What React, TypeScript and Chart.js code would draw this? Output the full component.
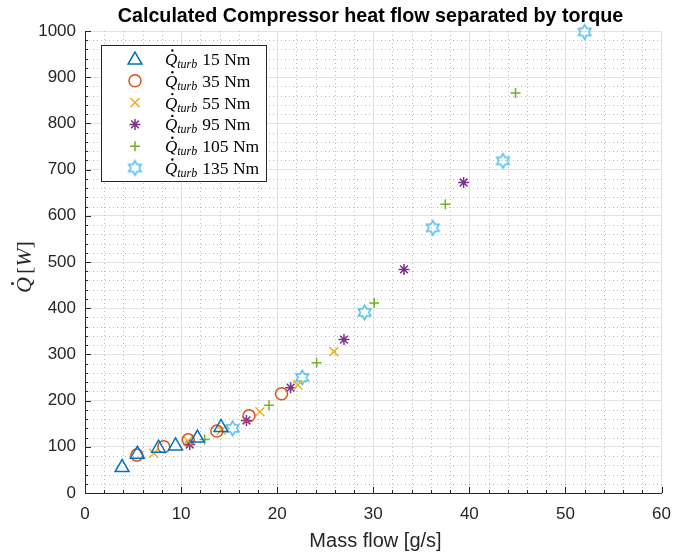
import React, { useEffect, useRef } from 'react';
import { Chart, registerables } from 'chart.js';
import { drawPoint } from 'chart.js/helpers';

Chart.register(...registerables);

const chartTitle = 'Calculated Compressor heat flow separated by torque';
const xTitle = 'Mass flow [g/s]';
const seriesLabels = ['15 Nm', '35 Nm', '55 Nm', '95 Nm', '105 Nm', '135 Nm'];
const seriesColors = ['#0072BD', '#D95319', '#EDB120', '#7E2F8E', '#77AC30', '#4DBEEE'];

const mass15 = [3.86, 5.45, 7.65, 9.42, 11.7, 14.15];
const heat15 = [55, 84, 97, 102, 119, 142];
const mass35 = [5.4, 8.2, 10.75, 13.72, 17.07, 20.45];
const heat35 = [82, 100, 115, 134, 167, 215];
const mass55 = [7.16, 10.7, 14.2, 18.2, 22.15, 25.9];
const heat55 = [86, 113, 136, 176, 234, 306];
const mass95 = [10.9, 16.8, 21.4, 26.95, 33.2, 39.4];
const heat95 = [105, 157, 228, 332, 484, 672];
const mass105 = [12.45, 19.15, 24.1, 30.1, 37.5, 44.8];
const heat105 = [116, 190, 282, 411, 625, 866];
const mass135 = [15.36, 22.6, 29.1, 36.2, 43.5, 52.0];
const heat135 = [140, 250, 391, 574, 719, 998];

const xTicksMajor = [0, 10, 20, 30, 40, 50, 60];
const yTicksMajor = [0, 100, 200, 300, 400, 500, 600, 700, 800, 900, 1000];
const xMinorStep = 2;
const yMinorStep = 20;

const allMass = [mass15, mass35, mass55, mass95, mass105, mass135];
const allHeat = [heat15, heat35, heat55, heat95, heat105, heat135];

function makeHexagram(color: string) {
  const size = 19;
  const c = document.createElement('canvas');
  c.width = size;
  c.height = size;
  const ctx = c.getContext('2d')!;
  const cx = size / 2;
  const cy = size / 2;
  const R = 7.2;
  const r = R / Math.sqrt(3);
  ctx.beginPath();
  for (let i = 0; i < 12; i++) {
    const ang = -Math.PI / 2 + (i * Math.PI) / 6;
    const rad = i % 2 === 0 ? R : r;
    const px = cx + Math.cos(ang) * rad;
    const py = cy + Math.sin(ang) * rad;
    if (i === 0) ctx.moveTo(px, py);
    else ctx.lineTo(px, py);
  }
  ctx.closePath();
  ctx.strokeStyle = color;
  ctx.lineWidth = 1.5;
  ctx.stroke();
  return c;
}

export default function App() {
  const ref = useRef<HTMLCanvasElement | null>(null);

  useEffect(() => {
    document.body.style.margin = '0';
    const canvas = ref.current!;
    const hex = makeHexagram(seriesColors[5]);
    const styles: any[] = ['triangle', 'circle', 'crossRot', 'star', 'cross', hex];
    const radii = [8, 6, 6.4, 5.5, 5, 7];

    const datasets = seriesLabels.map((lab, i) => ({
      label: lab,
      data: allMass[i].map((m, k) => ({ x: m, y: allHeat[i][k] })),
      pointStyle: styles[i],
      pointRadius: radii[i],
      pointHoverRadius: radii[i],
      borderColor: seriesColors[i],
      backgroundColor: 'rgba(0,0,0,0)',
      pointBorderWidth: 1.5,
      borderWidth: 1.5,
      showLine: false,
      clip: false as any,
    }));

    const decor = {
      id: 'decor',
      beforeDatasetsDraw(chart: any) {
        const { ctx, chartArea: a, scales } = chart;
        const xs = scales.x;
        const ys = scales.y;
        ctx.save();
        ctx.strokeStyle = '#bcbcbc';
        ctx.lineWidth = 1;
        ctx.setLineDash([1, 3]);
        for (let v = 0; v <= 60; v += xMinorStep) {
          if (xTicksMajor.includes(v)) continue;
          const px = Math.round(xs.getPixelForValue(v)) + 0.5;
          ctx.beginPath();
          ctx.moveTo(px, a.top);
          ctx.lineTo(px, a.bottom);
          ctx.stroke();
        }
        for (let v = 0; v <= 1000; v += yMinorStep) {
          if (yTicksMajor.includes(v)) continue;
          const py = Math.round(ys.getPixelForValue(v)) + 0.5;
          ctx.beginPath();
          ctx.moveTo(a.left, py);
          ctx.lineTo(a.right, py);
          ctx.stroke();
        }
        ctx.setLineDash([]);
        // inward ticks
        ctx.strokeStyle = '#262626';
        for (let v = 0; v <= 60; v += xMinorStep) {
          const px = Math.round(xs.getPixelForValue(v)) + 0.5;
          const len = xTicksMajor.includes(v) ? 6 : 3;
          ctx.beginPath();
          ctx.moveTo(px, a.bottom);
          ctx.lineTo(px, a.bottom - len);
          ctx.stroke();
        }
        for (let v = 0; v <= 1000; v += yMinorStep) {
          const py = Math.round(ys.getPixelForValue(v)) + 0.5;
          const len = yTicksMajor.includes(v) ? 6 : 3;
          ctx.beginPath();
          ctx.moveTo(a.left, py);
          ctx.lineTo(a.left + len, py);
          ctx.stroke();
        }
        ctx.restore();
      },
      afterDraw(chart: any) {
        const { ctx, chartArea: a } = chart;
        ctx.save();
        // title
        ctx.fillStyle = '#000';
        ctx.font = 'bold 19.7px "Liberation Sans", Arial, sans-serif';
        ctx.textAlign = 'center';
        ctx.textBaseline = 'alphabetic';
        ctx.fillText(chartTitle, 370.5, 22);
        // x title
        ctx.fillStyle = '#262626';
        ctx.font = '20px "Liberation Sans", Arial, sans-serif';
        ctx.fillText(xTitle, 375.5, 547);
        // y title  Q̇[W]
        ctx.save();
        ctx.translate(31, 267);
        ctx.rotate(-Math.PI / 2);
        const itf = 'italic 22px "Liberation Serif", "DejaVu Serif", serif';
        const upf = '22px "Liberation Serif", "DejaVu Serif", serif';
        const parts: [string, string][] = [['Q', itf], ['[', upf], ['W', itf], [']', upf]];
        let total = 0;
        for (const [t, f] of parts) { ctx.font = f; total += ctx.measureText(t).width; }
        total += 3;
        let x0 = -total / 2;
        ctx.textAlign = 'left';
        ctx.fillStyle = '#262626';
        ctx.font = itf;
        const qw = ctx.measureText('Q').width;
        ctx.fillText('Q', x0, 0);
        ctx.beginPath();
        ctx.arc(x0 + qw * 0.6, -18.5, 1.5, 0, Math.PI * 2);
        ctx.fill();
        x0 += qw + 3;
        for (const [t, f] of parts.slice(1)) {
          ctx.font = f;
          ctx.fillText(t, x0, 0);
          x0 += ctx.measureText(t).width;
        }
        ctx.restore();

        // legend
        const bx = 101.5, by = 45.5, bw = 165, bh = 136;
        ctx.fillStyle = '#fff';
        ctx.fillRect(bx, by, bw, bh);
        ctx.strokeStyle = '#262626';
        ctx.lineWidth = 1;
        ctx.strokeRect(bx, by, bw, bh);
        for (let i = 0; i < seriesLabels.length; i++) {
          const cy = 59 + i * 21.8;
          ctx.save();
          ctx.strokeStyle = seriesColors[i];
          ctx.fillStyle = 'rgba(0,0,0,0)';
          ctx.lineWidth = 1.5;
          drawPoint(ctx, { pointStyle: styles[i], radius: radii[i], borderWidth: 1.5, rotation: 0 } as any, 135, cy + (i === 0 ? 1 : 0));
          ctx.restore();
          const base = cy + 6;
          let tx = 165;
          ctx.fillStyle = '#000';
          ctx.textAlign = 'left';
          ctx.font = 'italic 17px "Liberation Serif", "DejaVu Serif", serif';
          const qW = ctx.measureText('Q').width;
          ctx.fillText('Q', tx, base);
          ctx.beginPath();
          ctx.arc(tx + qW * 0.6, base - 14.5, 1.2, 0, Math.PI * 2);
          ctx.fill();
          tx += qW;
          ctx.font = 'italic 12px "Liberation Serif", "DejaVu Serif", serif';
          ctx.fillText('turb', tx, base + 3);
          tx += ctx.measureText('turb').width + 5;
          ctx.font = '17.5px "Liberation Serif", "DejaVu Serif", serif';
          ctx.fillText(seriesLabels[i], tx, base);
        }
        ctx.restore();
      },
    };

    const chart = new Chart(canvas, {
      type: 'scatter',
      data: { datasets },
      options: {
        animation: false,
        responsive: false,
        events: [],
        layout: { padding: { top: 31, right: 11, left: 0, bottom: 0 } },
        plugins: { legend: { display: false }, title: { display: false }, tooltip: { enabled: false } },
        scales: {
          x: {
            type: 'linear',
            min: 0,
            max: 60,
            afterBuildTicks: (s: any) => { s.ticks = xTicksMajor.map((v) => ({ value: v })); },
            afterFit: (s: any) => { s.height = 60; },
            ticks: {
              color: '#262626',
              padding: 11,
              maxRotation: 0,
              callback: (v: any) => String(v),
              font: { family: '"Liberation Sans", Arial, sans-serif', size: 17 },
            },
            grid: { color: '#e3e3e3', lineWidth: 1, drawTicks: false },
            border: { display: true, color: '#262626', width: 1 },
          },
          y: {
            type: 'linear',
            min: 0,
            max: 1000,
            afterBuildTicks: (s: any) => { s.ticks = yTicksMajor.map((v) => ({ value: v })); },
            afterFit: (s: any) => { s.width = 85; },
            ticks: {
              color: '#262626',
              padding: 9,
              callback: (v: any) => String(v),
              font: { family: '"Liberation Sans", Arial, sans-serif', size: 17 },
            },
            grid: { color: '#e3e3e3', lineWidth: 1, drawTicks: false },
            border: { display: true, color: '#262626', width: 1 },
          },
        },
      },
      plugins: [decor],
    } as any);

    return () => chart.destroy();
  }, []);

  return (
    <div style={{ width: 682, height: 553, background: '#fff' }}>
      <canvas ref={ref} width={682} height={553} style={{ display: 'block' }} />
    </div>
  );
}
